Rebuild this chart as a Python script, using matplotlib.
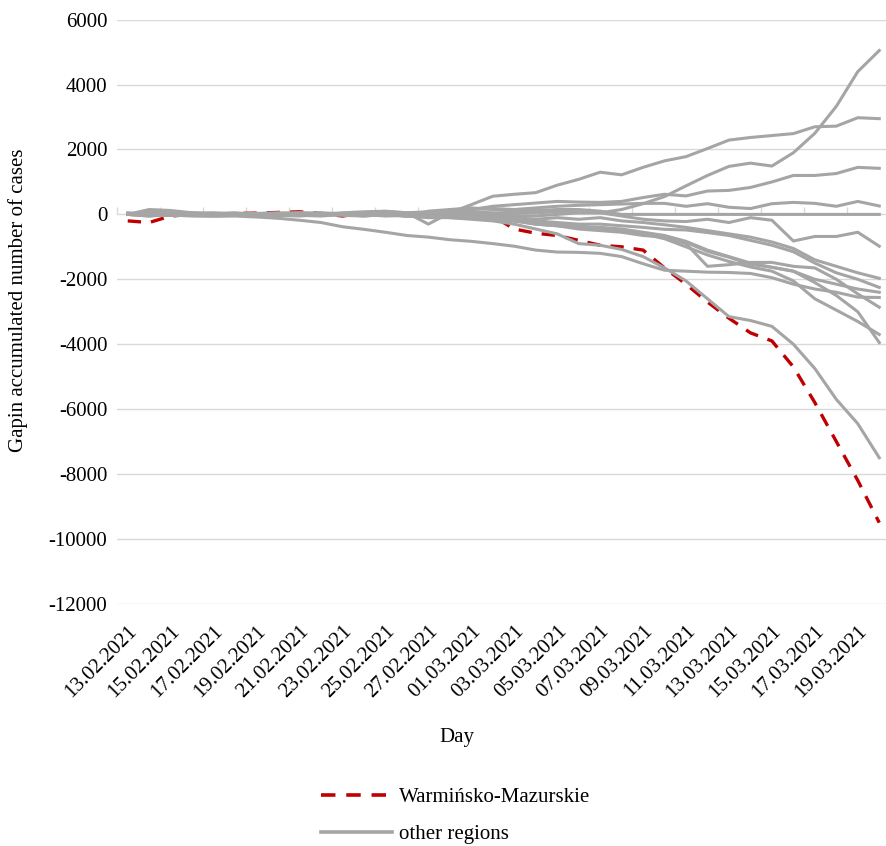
import matplotlib
matplotlib.use("Agg")
import matplotlib.pyplot as plt
import numpy as np
from matplotlib.lines import Line2D

plt.rcParams['font.family'] = ['Liberation Serif', 'DejaVu Serif']
plt.rcParams['axes.unicode_minus'] = False

dates = ["13.02.2021", "14.02.2021", "15.02.2021", "16.02.2021", "17.02.2021", "18.02.2021",
         "19.02.2021", "20.02.2021", "21.02.2021", "22.02.2021", "23.02.2021", "24.02.2021",
         "25.02.2021", "26.02.2021", "27.02.2021", "28.02.2021", "01.03.2021", "02.03.2021",
         "03.03.2021", "04.03.2021", "05.03.2021", "06.03.2021", "07.03.2021", "08.03.2021",
         "09.03.2021", "10.03.2021", "11.03.2021", "12.03.2021", "13.03.2021", "14.03.2021",
         "15.03.2021", "16.03.2021", "17.03.2021", "18.03.2021", "19.03.2021", "20.03.2021"]

warminsko = [-200, -250, -50, 0, 20, 30, 40, 60, 80, 30, -50, 40, 80, 20, 0, 50, 60, -50,
             -450, -580, -650, -800, -950, -1000, -1100, -1650, -2150, -2700, -3200, -3650,
             -3900, -4700, -5800, -7000, -8200, -9500]

region_a = [0, 50, 20, 0, -30, 0, 20, 30, 0, -20, 0, 30, 50, 20, 0, 50, 80, 50, 30, 50,
            80, 50, 50, 150, 330, 550, 880, 1200, 1480, 1580, 1490, 1900, 2500, 3330, 4400, 5050]
region_b = [0, 150, 120, 50, 0, 20, 30, 0, -20, 0, 30, 50, 50, 50, -300, 50, 300, 560, 620, 670,
            900, 1080, 1300, 1220, 1450, 1650, 1780, 2030, 2290, 2370, 2430, 2490, 2700, 2720, 2980, 2950]
region_c = [0, -50, 0, 30, 50, 20, 0, 30, 50, 0, 20, 50, 80, 50, 50, 100, 150, 250, 300, 350,
            400, 380, 370, 400, 520, 620, 570, 720, 740, 830, 1000, 1200, 1200, 1260, 1450, 1420]
region_d = [0, 80, 50, 0, -20, 0, 30, 50, 20, 0, 50, 80, 100, 50, 80, 100, 150, 180, 150, 200,
            250, 280, 300, 320, 340, 340, 250, 330, 220, 180, 330, 370, 340, 250, 400, 260]
region_e = [0, 20, 0, -30, 0, 30, 0, 20, 50, 30, 0, 20, 0, -50, 100, 150, 200, 150, 100, 120,
            150, 150, 100, 0, 0, 0, 0, 0, 0, 0, 0, 0, 0, 0, 0, 0]
region_f = [0, -30, 0, 20, 0, -20, 0, 20, 0, -30, 0, 20, 50, 0, 30, 50, 20, 0, -50, -50,
            0, 50, 50, -50, -150, -200, -220, -150, -250, -100, -180, -820, -680, -680, -550, -980]
region_g = [0, 0, -20, -50, -60, -50, -80, -120, -180, -250, -380, -460, -550, -650, -700, -780,
            -830, -900, -980, -1100, -1160, -1170, -1200, -1300, -1520, -1720, -1750, -1780, -1790,
            -1820, -1950, -2150, -2300, -2400, -2550, -2560]
region_h = [0, 0, 30, 0, -30, 0, 20, 0, -20, 0, 30, 0, -20, -50, -100, -100, -150, -200, -300,
            -450, -600, -900, -950, -1080, -1300, -1650, -2050, -2600, -3150, -3270, -3450, -4000,
            -4750, -5700, -6450, -7500]
region_i = [50, 0, -30, 0, 20, 0, -20, 0, 30, 50, 20, 0, -30, 0, 50, 0, -30, -50, -100, -150,
            -100, -150, -100, -200, -250, -320, -400, -500, -600, -700, -850, -1050, -1400, -1600,
            -1800, -1970]
region_j = [0, -50, 0, 50, 30, 0, -30, -50, 0, 20, 0, -50, 0, 30, 0, -50, -30, 0, -100, -200,
            -250, -300, -300, -350, -400, -460, -480, -560, -650, -800, -950, -1150, -1500, -1800,
            -2000, -2250]
region_k = [0, 30, 0, -20, 0, 50, 0, -30, -50, 0, 30, 0, -50, -30, 0, -30, -50, -100, -200, -300,
            -350, -380, -400, -450, -550, -650, -830, -1100, -1300, -1500, -1630, -1750, -2000,
            -2150, -2300, -2400]
region_l = [0, -20, 30, 0, -30, 0, 30, 0, -30, -50, 0, 30, 0, -50, -50, -80, -100, -150, -200,
            -250, -300, -350, -450, -500, -600, -700, -900, -1600, -1550, -1480, -1480, -1600,
            -1650, -2000, -2450, -2860]
region_m = [0, 0, -30, 0, 30, 0, -30, 0, 30, 0, -30, -50, 0, 20, -50, -100, -120, -100, -150, -200,
            -300, -400, -450, -500, -600, -750, -1000, -1250, -1450, -1620, -1750, -2050, -2600,
            -2950, -3300, -3700]
region_n = [30, 0, -30, 0, 0, 30, 0, -30, 0, 30, 0, -30, 0, -50, -30, -50, -80, -150, -200, -300,
            -350, -450, -500, -550, -650, -700, -860, -1140, -1320, -1540, -1630, -1750, -2100,
            -2500, -3000, -3950]

others = [region_a, region_b, region_c, region_d, region_e, region_f, region_g,
          region_h, region_i, region_j, region_k, region_l, region_m, region_n]

yticks = [6000, 4000, 2000, 0, -2000, -4000, -6000, -8000, -10000, -12000]

FS = 15
W, H = 886, 846
fig = plt.figure(figsize=(W / 100, H / 100), dpi=100)
left_px, right_px, top_px, bot_px = 117, 890, 19.7, 603.8
ax = fig.add_axes([left_px / W, 1 - bot_px / H, (right_px - left_px) / W, (bot_px - top_px) / H])

x = np.arange(len(dates))
red = "#c00000"
gray = "#a5a5a5"

ax.plot(x, warminsko, color=red, lw=2.4, linestyle=(0, (4, 3)), zorder=3)
for s in others:
    ax.plot(x, s, color=gray, lw=2.2, zorder=4, solid_joinstyle='round')

ax.set_xlim(-0.5, len(dates) - 0.5)
ax.set_ylim(-12000, 6000)
ax.set_yticks(yticks)
ax.set_yticklabels([str(v) for v in yticks])
ax.yaxis.grid(True, color="#d9d9d9", lw=1.0, zorder=0)
ax.set_axisbelow(True)
for sp in ax.spines.values():
    sp.set_visible(False)
ax.tick_params(axis='y', length=0, pad=7, labelsize=FS)

ax.set_xticks(x[::2])
ax.set_xticklabels(dates[::2], rotation=45, ha='right', va='top', rotation_mode='anchor')
ax.tick_params(axis='x', length=0, pad=13, labelsize=FS)

# category axis line at y = 0 with tick marks between categories
sec = ax.secondary_xaxis(2 / 3)
sec.set_xticks(np.arange(-0.5, len(dates), 2))
sec.set_xticklabels([])
sec.tick_params(axis='x', length=5, width=1.0, color="#d9d9d9", direction='out')
sec.spines['bottom'].set_color("#d9d9d9")
sec.spines['bottom'].set_linewidth(1.0)
for k in ['top', 'left', 'right']:
    sec.spines[k].set_visible(False)

fig.text(457 / W, 1 - 737 / H, "Day", ha='center', va='center', fontsize=FS)
fig.text(18 / W, 1 - 300 / H, "Gapin accumulated number of cases", rotation=90,
         ha='center', va='center', fontsize=FS)

handles = [Line2D([], [], color=red, lw=2.6, linestyle=(0, (4, 3))),
           Line2D([], [], color=gray, lw=2.6)]
fig.legend(handles, ["Warmińsko-Mazurskie", "other regions"], loc='center',
           bbox_to_anchor=(456 / W, 1 - 816 / H), frameon=False, fontsize=FS,
           handlelength=3.4, labelspacing=0.85, handletextpad=0.35, borderpad=0)

fig.savefig("out.png", dpi=100)
